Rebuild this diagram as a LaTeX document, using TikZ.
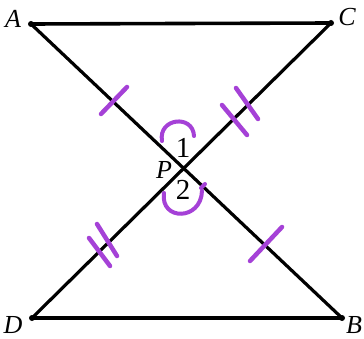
\documentclass[tikz,border=0pt]{standalone}
\usepackage{fontspec}
\setmainfont{Liberation Serif}
\definecolor{mark}{RGB}{165,65,215}
\begin{document}
\begin{tikzpicture}[x=1pt,y=-1pt,
  seg/.style={line width=3.6pt,line cap=round},
  tick/.style={draw=mark,line width=4.5pt,line cap=round},
  anglemark/.style={draw=mark,line width=4pt,line cap=round},
  vlabel/.style={font=\fontsize{26}{28}\selectfont\itshape,inner sep=0pt},
  nlabel/.style={font=\fontsize{29}{30}\selectfont,inner sep=0pt},
  dot/.style={circle,fill=black,inner sep=0pt,minimum size=6pt}]
\useasboundingbox (0,0) rectangle (364,339);
\fill[white] (0,0) rectangle (364,339);
\node[dot] (A) at (31,24) {};
\node[dot] (C) at (331,23) {};
\node[dot] (D) at (32,318) {};
\node[dot] (B) at (342,318) {};
\coordinate (P) at (184,168);
\draw[seg] (A.center) -- (C.center);
\draw[seg] (D.center) -- (B.center);
\draw[seg,line width=3.2pt] (A.center) -- (B.center);
\draw[seg,line width=3.2pt] (C.center) -- (D.center);
% labels
\node[vlabel] (lA) at (13,19) {A};
\node[vlabel] (lC) at (347,17) {C};
\node[vlabel] (lD) at (13,325) {D};
\node[vlabel] (lB) at (354,325) {B};
\node[vlabel] (lP) at (164,170) {P};
\node[nlabel] (l1) at (183,148) {1};
\node[nlabel] (l2) at (183,190) {2};
% tick marks
\draw[tick] (101,114) -- (127,87);
\draw[tick] (250,261) -- (282,227);
\draw[tick] (222,105) -- (247,135);
\draw[tick] (236,88) -- (258,119);
\draw[tick] (89,238) -- (110,266);
\draw[tick] (97,224) -- (117,256);
% angle marks
\draw[anglemark] (162,141) .. controls (158,118) and (193,114) .. (194,136);
\draw[anglemark] (164,193) .. controls (160,221) and (201,221) .. (202,191);
\draw[anglemark] (201,188) -- (205,184);
\end{tikzpicture}
\end{document}
